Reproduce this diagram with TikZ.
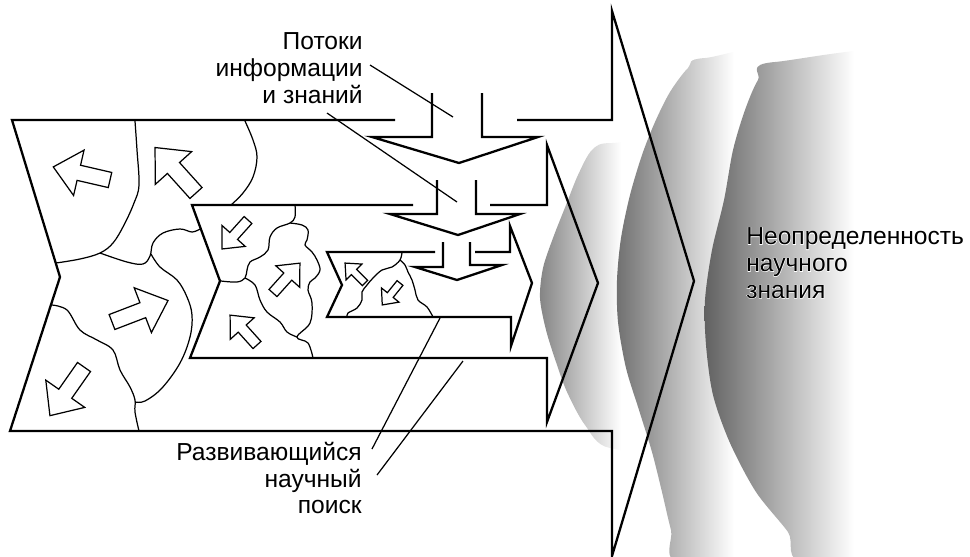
\documentclass[tikz,border=0pt]{standalone}
\usepackage{fontspec}
\setmainfont{Liberation Sans}
\newfontfamily\halofont[FakeBold=4]{Liberation Sans}
\usepackage{tikz}
\definecolor{fogA}{gray}{0.52}
\definecolor{fogB}{gray}{0.44}
\definecolor{fogC}{gray}{0.38}
\pgfdeclarehorizontalshading{fadeA}{100bp}{color(0bp)=(fogA); color(25bp)=(fogA); color(50bp)=(white); color(100bp)=(white)}
\pgfdeclarehorizontalshading{fadeB}{100bp}{color(0bp)=(fogB); color(25bp)=(fogB); color(50bp)=(white); color(100bp)=(white)}
\pgfdeclarehorizontalshading{fadeC}{100bp}{color(0bp)=(fogC); color(25bp)=(fogC); color(50bp)=(white); color(100bp)=(white)}
\tikzset{
  outline/.style={line width=1.3pt,line join=miter},
  seam/.style={line width=0.7pt},
  leader/.style={line width=0.7pt},
  lbl/.style={font=\fontsize{14}{15.3}\selectfont,inner sep=0pt},
  halo/.style={font=\fontsize{14}{15.3}\selectfont\halofont,inner sep=0pt,text=white},
  blockarr/.pic={\draw[seam] (0,-8) -- (33,-8) -- (33,-24) -- (60,0) -- (33,24) -- (33,8) -- (0,8) -- cycle;},
}
\begin{document}
\begin{tikzpicture}[x=0.02cm,y=-0.02cm]
  \useasboundingbox (0,0) rectangle (970,556);
  \shade[shading=fadeA] plot[smooth cycle,tension=0.5] coordinates {(612,143) (592,150) (578,175) (566,205) (553,238) (543,268) (540,298) (546,330) (556,362) (567,392) (585,425) (610,448) (690,445) (700,300) (690,150)};
  \shade[shading=fadeB] plot[smooth cycle,tension=0.5] coordinates {(705,58) (688,68) (670,92) (655,122) (642,155) (630,195) (621,238) (617,280) (618,322) (626,368) (639,410) (652,452) (662,492) (671,530) (682,565) (830,565) (837,300) (830,58)};
  \shade[shading=fadeC] plot[smooth cycle,tension=0.5] coordinates {(775,62) (758,80) (745,110) (733,150) (724,200) (712,250) (705,300) (706,345) (713,395) (730,443) (756,492) (788,532) (808,565) (975,565) (985,300) (975,62)};
  \draw[outline] (395,120) -- (12,120) -- (60,277) -- (10,431) -- (612,431) -- (612,556) -- (694,281) -- (612,11) -- (612,120) -- (517,120);
  \draw[outline] (413,205) -- (192,205) -- (220,281) -- (190,358) -- (547,358) -- (547,422) -- (598,283) -- (547,145) -- (547,205) -- (490,205);
  \draw[outline] (435,252) -- (327,252) -- (342,285) -- (327,317) -- (511,317) -- (511,346) -- (532,283) -- (510,226) -- (510,252) -- (475,252);
  \draw[outline] (432,93) -- (432,137) -- (372,137) -- (459,163) -- (538,137) -- (482,137) -- (482,93);
  \draw[outline] (437,180) -- (437,214) -- (390,214) -- (458,235) -- (520,214) -- (476,214) -- (476,180);
  \draw[outline] (443,242) -- (443,267) -- (415,267) -- (457,280) -- (502,265) -- (470,265) -- (470,242);
  \draw[seam] plot[smooth,tension=0.6] coordinates {(135,121) (137,150) (139,185) (134,203) (124,225) (113,243) (100,253) (80,259) (56,263)};
  \draw[seam] plot[smooth,tension=0.6] coordinates {(100,253) (127,262) (143,264) (150,256) (153,243) (163,233) (180,229) (192,232) (200,229)};
  \draw[seam] plot[smooth,tension=0.6] coordinates {(151,254) (160,267) (177,280) (187,297) (192,315) (190,337) (180,363) (162,388) (145,401) (135,402)};
  \draw[seam] plot[smooth,tension=0.6] coordinates {(245,121) (253,140) (257,157) (253,177) (243,193) (231,205)};
  \draw[seam] plot[smooth,tension=0.6] coordinates {(52,305) (67,310) (80,330) (97,340) (113,350) (120,370) (130,387) (135,400) (135,412) (139,431)};
  \draw[seam] plot[smooth,tension=0.6] coordinates {(295,205) (295,217) (290,223) (277,228) (270,237) (268,250) (260,257) (250,262) (247,270) (245,278) (237,282) (221,281)};
  \draw[seam] plot[smooth,tension=0.6] coordinates {(290,223) (302,225) (308,230) (307,240) (305,245) (312,252) (317,260) (320,270) (315,278) (310,282) (308,290) (312,303) (310,323) (297,337) (308,343) (313,358)};
  \draw[seam] plot[smooth,tension=0.6] coordinates {(245,278) (255,285) (260,300) (267,312) (280,322) (287,332) (297,337)};
  \draw[seam] plot[smooth,tension=0.6] coordinates {(402,252) (400,260) (392,267) (382,270) (373,278) (367,285) (362,292) (362,300) (357,308) (348,313) (347,317)};
  \draw[seam] plot[smooth,tension=0.6] coordinates {(400,260) (405,265) (408,272) (412,280) (415,290) (418,300) (427,307) (433,317)};
  \pic[rotate=167,scale=0.97] at (110,180) {blockarr};
  \pic[rotate=132,scale=1.02] at (196,193) {blockarr};
  \pic[rotate=21,scale=1.0] at (112,322) {blockarr};
  \pic[rotate=235,scale=0.99] at (84,367) {blockarr};
  \pic[rotate=228,scale=0.65] at (248,220) {blockarr};
  \pic[rotate=48,scale=0.67] at (273,293) {blockarr};
  \pic[rotate=132,scale=0.67] at (257,345) {blockarr};
  \pic[rotate=135,scale=0.47] at (365,283) {blockarr};
  \pic[rotate=231,scale=0.47] at (400,283) {blockarr};
  \node[lbl,anchor=east,align=right] (flows) at (363,68) {Потоки\\информации\\и знаний};
  \node[lbl,anchor=east,align=right] (search) at (362,478) {Развивающийся\\научный\\поиск};
  \node[halo,anchor=west,align=left] (foghalo) at (746,263) {Неопределенность\\научного\\знания};
  \node[lbl,anchor=west,align=left] (fog) at (746,263) {Неопределенность\\научного\\знания};
  \coordinate (flowsA) at (370,65);
  \coordinate (flowsB) at (327,113);
  \coordinate (inflowA) at (453,117);
  \coordinate (inflowB) at (457,202);
  \coordinate (searchA) at (372,449);
  \coordinate (searchB) at (377,475);
  \coordinate (smallbot) at (440,318);
  \coordinate (midbot) at (463,361);
  \draw[leader] (flowsA) -- (inflowA);
  \draw[leader] (flowsB) -- (inflowB);
  \draw[leader] (searchA) -- (smallbot);
  \draw[leader] (searchB) -- (midbot);
\end{tikzpicture}
\end{document}
